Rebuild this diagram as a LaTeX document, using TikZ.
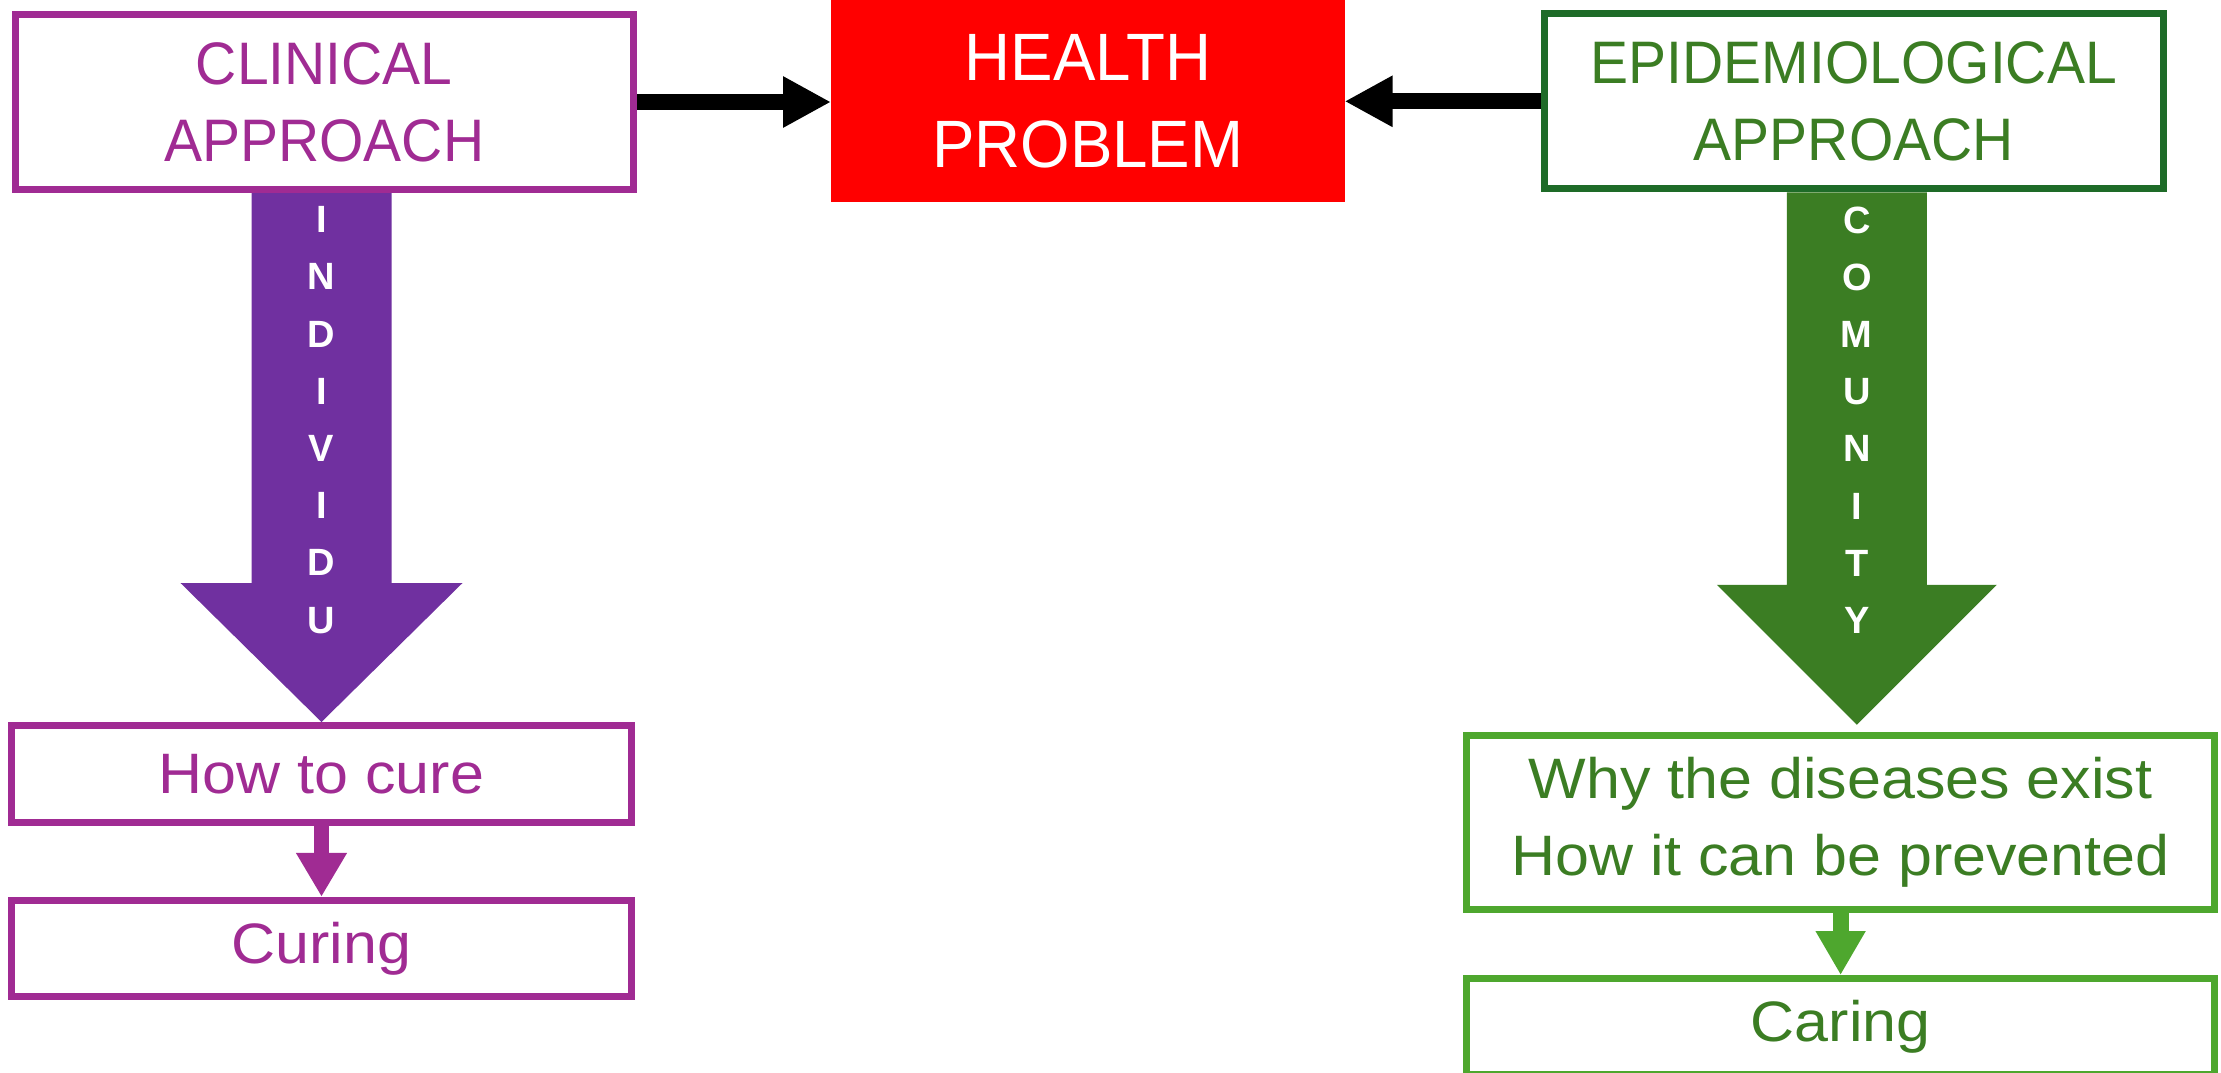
\documentclass[tikz,border=0pt]{standalone}
\usepackage{fontspec}
\usetikzlibrary{arrows.meta,calc}
\newfontfamily\topfont[FakeStretch=0.95]{Liberation Sans}
\newfontfamily\lowfont[FakeStretch=1.07]{Liberation Sans}
\newfontfamily\letfont{Liberation Sans}
\definecolor{clinpurple}{HTML}{A02B93}
\definecolor{arrowpurple}{HTML}{7030A0}
\definecolor{epiborder}{HTML}{1E6B28}
\definecolor{darkgreen}{HTML}{3B7D23}
\definecolor{lightgreen}{HTML}{4EA72E}
\begin{document}
\begin{tikzpicture}[x=1pt,y=-1pt,
  boxbase/.style={draw, line width=7pt, fill=white, inner sep=0pt, align=center},
  topbox/.style={boxbase, minimum width=618.5pt, minimum height=175pt,
    font=\topfont\fontsize{60}{77}\selectfont},
  lowbox/.style={boxbase, font=\lowfont\fontsize{57}{77.3}\selectfont},
  clinstyle/.style={topbox, draw=clinpurple, text=clinpurple},
  epistyle/.style={topbox, draw=epiborder, text=darkgreen},
  purplelow/.style={lowbox, draw=clinpurple, text=clinpurple, minimum width=619.3pt},
  greenlow/.style={lowbox, draw=lightgreen, text=darkgreen, minimum width=747.5pt},
  blkarrow/.style={draw=black, line width=16pt, -{Triangle[length=48pt,width=48pt]}},
  psmall/.style={draw=clinpurple, line width=15pt, -{Triangle[length=44pt,width=48pt]}},
  gsmall/.style={draw=lightgreen, line width=16pt, -{Triangle[length=44pt,width=47pt]}},
  vlet/.style={text=white, inner sep=0pt, align=center,
    font=\letfont\bfseries\fontsize{38}{57.2}\selectfont}
]
\useasboundingbox (0,0) rectangle (2221,1072);

% boxes
\node[clinstyle] (clin) at (324.25,102) {CLINICAL\\APPROACH};
\node[fill=red, minimum width=513.6pt, minimum height=201.7pt, inner sep=0pt, outer sep=0pt,
  text=white, align=center, font=\topfont\fontsize{67}{87}\selectfont] (prob) at (1087.8,100.8) {HEALTH\\PROBLEM};
\node[epistyle] (epi) at (1853.8,101.3) {EPIDEMIOLOGICAL\\APPROACH};

\node[purplelow, minimum height=97pt] (howcure) at (321.5,774) {How to cure};
\node[purplelow, minimum height=96.3pt] (curing) at (321.5,948.4) {Curing};

\node[greenlow, minimum height=174.3pt] (why) at (1840.6,822.4) {Why the diseases exist\\How it can be prevented};
\node[greenlow, minimum height=96pt] (caring) at (1840.6,1026.5) {Caring};

% black arrows
\draw[blkarrow] (clin.east) -- (clin.east -| prob.west);
\draw[blkarrow] (epi.west) -- (epi.west -| prob.east);

% big purple arrow
\coordinate (ptip) at (howcure.north);
\coordinate (ptop) at (ptip |- clin.south);
\fill[arrowpurple] ($(ptop)+(-70,0)$) -- ($(ptop)+(70,0)$) -- ($(ptip)+(70,-139)$) -- ($(ptip)+(141,-139)$)
  -- (ptip) -- ($(ptip)+(-141,-139)$) -- ($(ptip)+(-70,-139)$) -- cycle;
\node[vlet] (indiv) at ($(ptop |- 0,420)$) {I\\N\\D\\I\\V\\I\\D\\U};

% big green arrow
\coordinate (gtip) at ($(epi.south |- why.north)+(3,-7)$);
\coordinate (gtop) at (gtip |- epi.south);
\fill[darkgreen] ($(gtop)+(-70,0)$) -- ($(gtop)+(70,0)$) -- ($(gtip)+(70,-140)$) -- ($(gtip)+(140,-140)$)
  -- (gtip) -- ($(gtip)+(-140,-140)$) -- ($(gtip)+(-70,-140)$) -- cycle;
\node[vlet] (comun) at ($(gtop |- 0,420)$) {C\\O\\M\\U\\N\\I\\T\\Y};

% small arrows
\draw[psmall] (howcure.south) -- (curing.north);
\draw[gsmall] (why.south) -- (caring.north);
\end{tikzpicture}
\end{document}
